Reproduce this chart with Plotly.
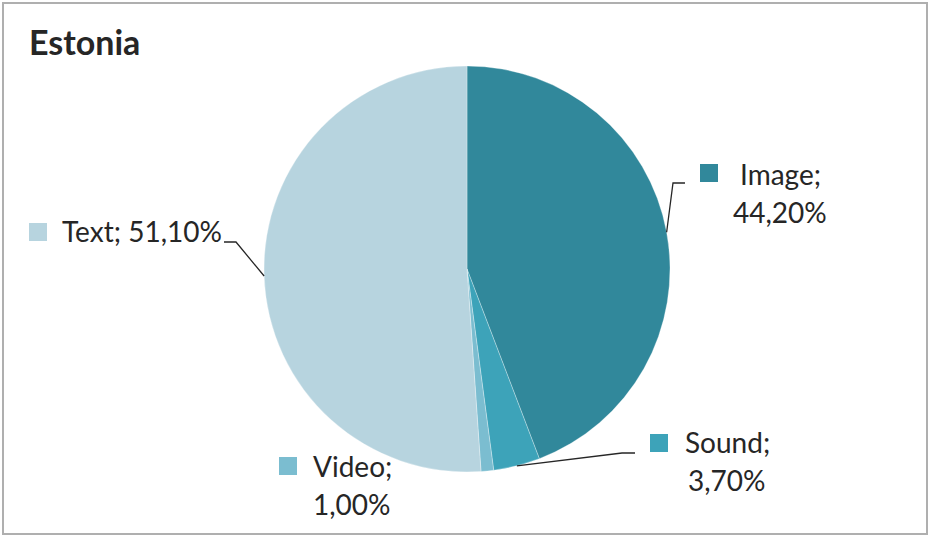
import math
import plotly.graph_objects as go

W, H = 930, 536

# data
labels = ["Image", "Sound", "Video", "Text"]
shares = [44.2, 3.7, 1.0, 51.1]
colors = ["#31889B", "#3DA3B9", "#7BBDD0", "#B7D4DF"]

# pie placement in pixels
cx, cy, r = 467, 269, 203

def px(x): return x / W
def py(y): return 1 - y / H

def fmt(v): return ("%.2f" % v).replace(".", ",") + "%"

fig = go.Figure(go.Pie(
    labels=labels, values=shares, sort=False, direction="clockwise", rotation=0,
    marker=dict(colors=colors, line=dict(color="rgba(255,255,255,0.6)", width=0.5)),
    textinfo="none", hoverinfo="label+percent", showlegend=False,
    domain=dict(x=[px(cx - r), px(cx + r)], y=[py(cy + r), py(cy - r)]),
))

font = dict(family="Lato, Carlito, Calibri, sans-serif", size=28, color="#262626")

# label boxes: square position (left, top), text centre x, first baseline y, leader elbow
label_pos = {
    "Image": dict(sq=(700, 164), tx=780, ty=185, two=True, elbow=[(685, 183), (673, 183)]),
    "Sound": dict(sq=(650, 434), tx=727, ty=453, two=True, elbow=[(635, 453), (622, 453)]),
    "Video": dict(sq=(279, 457), tx=352, ty=477, two=True, elbow=None),
    "Text": dict(sq=(29, 223), tx=142, ty=242, two=False, elbow=[(224, 242), (236, 242)]),
}
LINE = 38

shapes = []
annotations = []
cum = 0.0
total = sum(shares)
for lab, val, col in zip(labels, shares, colors):
    mid = (cum + val / 2) / total * 2 * math.pi
    cum += val
    p = label_pos[lab]
    sx, sy = p["sq"]
    shapes.append(dict(type="rect", xref="paper", yref="paper",
                       x0=px(sx), x1=px(sx + 18), y0=py(sy + 18), y1=py(sy),
                       fillcolor=col, line=dict(width=0)))
    if p["two"]:
        lines = [lab + ";", fmt(val)]
    else:
        lines = [lab + "; " + fmt(val)]
    for i, t in enumerate(lines):
        annotations.append(dict(text=t, xref="paper", yref="paper",
                                x=px(p["tx"]), y=py(p["ty"] + i * LINE - 30),
                                xanchor="center", yanchor="top",
                                showarrow=False, font=font))
    if p["elbow"]:
        ex = cx + r * math.sin(mid)
        ey = cy - r * math.cos(mid)
        (ax, ay), (bx, by) = p["elbow"]
        path = "M %f,%f L %f,%f L %f,%f" % (px(ax), py(ay), px(bx), py(by), px(ex), py(ey))
        shapes.append(dict(type="path", xref="paper", yref="paper", path=path,
                           line=dict(color="#262626", width=1.3)))

# chart border
shapes.append(dict(type="rect", xref="paper", yref="paper",
                   x0=px(3), x1=px(927), y0=py(534), y1=py(3),
                   line=dict(color="#AFAFAF", width=2)))

annotations.append(dict(text="<b>Estonia</b>", xref="paper", yref="paper",
                        x=px(27), y=py(19), xanchor="left", yanchor="top", showarrow=False,
                        font=dict(family="Lato, Carlito, Calibri, sans-serif", size=34, color="#262626")))

fig.update_layout(width=W, height=H, margin=dict(l=0, r=0, t=0, b=0),
                  paper_bgcolor="white", plot_bgcolor="white",
                  shapes=shapes, annotations=annotations)

fig.write_html("out.html", config={"displayModeBar": False},
               post_script="document.body.style.margin='0';document.body.style.overflow='hidden';")
